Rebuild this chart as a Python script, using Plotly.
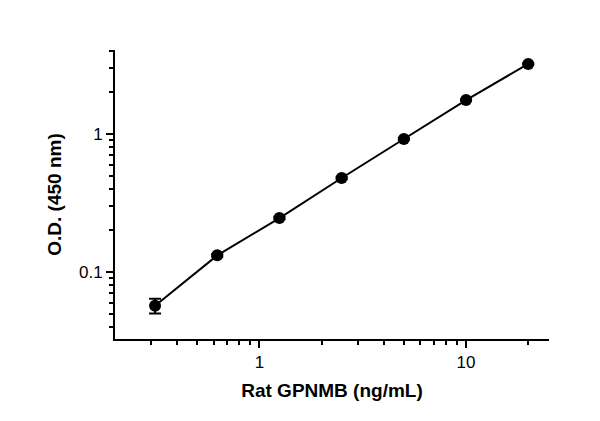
import plotly.graph_objects as go
import numpy as np

conc = [0.3125, 0.625, 1.25, 2.5, 5, 10, 20]
od = [0.057, 0.132, 0.246, 0.48, 0.92, 1.76, 3.22]
err = [0.007, 0.003, 0.005, 0.01, 0.015, 0.02, 0.03]

xminor = [0.3, 0.4, 0.5, 0.6, 0.7, 0.8, 0.9, 2, 3, 4, 5, 6, 7, 8, 9, 20]
yminor = [0.04, 0.05, 0.06, 0.07, 0.08, 0.09, 0.2, 0.3, 0.4, 0.5, 0.6, 0.7, 0.8, 0.9, 2, 3, 4]

fig = go.Figure()
fig.add_trace(go.Scatter(x=conc, y=od, mode="lines", line=dict(color="black", width=2), hoverinfo="skip"))
fig.add_trace(go.Scatter(x=conc, y=od, mode="markers", marker=dict(color="black", size=12),
                         error_y=dict(type="data", array=err, color="black", thickness=2, width=6)))
def ax(minor):
    return dict(type="log", showgrid=False, zeroline=False, showline=True, linecolor="black", linewidth=2,
          ticks="outside", ticklen=7, tickwidth=2, tickcolor="black", automargin=False,
          tickfont=dict(family="Liberation Sans", size=17, color="black"),
          minor=dict(ticks="outside", ticklen=4, tickwidth=2, tickcolor="black", showgrid=False, tickvals=minor))
fig.update_layout(
    width=600, height=421, showlegend=False, plot_bgcolor="white", paper_bgcolor="white",
    margin=dict(l=107, r=59, t=42, b=90),
    xaxis=dict(ax(xminor), range=[np.log10(0.2), np.log10(25.2)], tickvals=[1, 10], ticktext=["1", "10"],
               title=dict(text="<b>Rat GPNMB (ng/mL)</b>", font=dict(family="Liberation Sans", size=19, color="black"), standoff=12)),
    yaxis=dict(ax(yminor), range=[np.log10(0.0327), np.log10(4.06)], tickvals=[0.1, 1], ticktext=["0.1", "1"],
               title=dict(text="<b>O.D. (450 nm)</b>", font=dict(family="Liberation Sans", size=19, color="black"), standoff=12)),
)
fig.write_html("out.html")
